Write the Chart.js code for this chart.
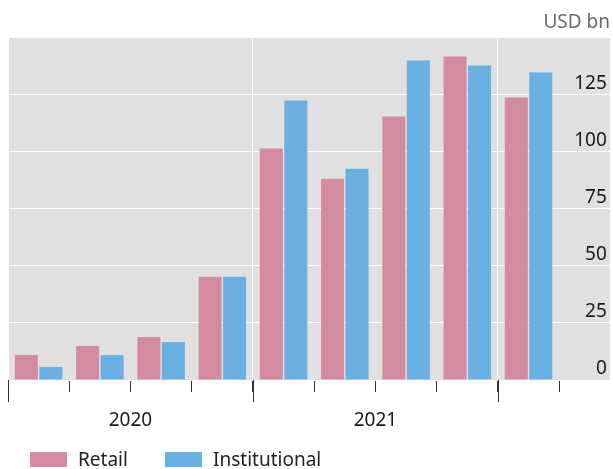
<!DOCTYPE html>
<html>
<head>
<meta charset="utf-8">
<script src="https://cdn.jsdelivr.net/npm/chart.js@4"></script>
<style>
  html, body { margin: 0; padding: 0; background: #fff; }
  .wrap { position: relative; width: 613px; height: 469px; overflow: hidden; }
  .chart-box { position: relative; width: 613px; height: 450px; }
  .legend {
    position: absolute; left: 30px; top: 448px;
    display: flex; font: 19px "Noto Sans", sans-serif; line-height: 22px; color: #222;
  }
  .legend-item { display: flex; align-items: center; width: 135px; }
  .legend-item:last-child { width: auto; }
  .swatch { width: 37px; height: 15px; margin-right: 11px; }
</style>
</head>
<body>
<div class="wrap">
  <div class="chart-box"><canvas id="flows"></canvas></div>
  <div class="legend" id="legend"></div>
</div>
<script>
const quarters = ['Q1 2020', 'Q2 2020', 'Q3 2020', 'Q4 2020', 'Q1 2021', 'Q2 2021', 'Q3 2021', 'Q4 2021', 'Q1 2022'];
const retail = [10.9, 14.9, 18.8, 45.1, 101.2, 88, 115.2, 141.5, 123.5];
const institutional = [5.7, 10.9, 16.6, 45.1, 122.2, 92.4, 139.7, 137.5, 134.5];
const yTicks = [0, 25, 50, 75, 100, 125];
const unitLabel = 'USD bn';

const COLORS = {
  retail: '#d48b9f',
  institutional: '#6ab0e2',
  plot: '#e0e0e0',
  tick: '#333333',
};

// x range in quarter steps; the plot runs a little past the last quarter
const X_MIN = -0.5;
const X_MAX = 9.33;

Chart.defaults.font.family = '"Noto Sans", sans-serif';
Chart.defaults.color = '#1a1a1a';

const yearOf = (q) => q.split(' ')[1];

// quarter boundaries sit half a step either side of each bar group
const boundaries = quarters.map((q, i) => i - 0.5);
const yearStarts = quarters
  .map((q, i) => (i === 0 || yearOf(q) !== yearOf(quarters[i - 1]) ? i - 0.5 : null))
  .filter((v) => v !== null);

const yearLabels = {};
[...new Set(quarters.map(yearOf))].forEach((year) => {
  const idx = quarters.map((q, i) => (yearOf(q) === year ? i : -1)).filter((i) => i >= 0);
  if (idx.length === 4) yearLabels[(idx[0] + idx[idx.length - 1]) / 2] = year;
});

const plotBackground = {
  id: 'plotBackground',
  beforeDraw(chart) {
    const { ctx, chartArea: a } = chart;
    ctx.save();
    ctx.fillStyle = COLORS.plot;
    ctx.fillRect(a.left, a.top, a.right - a.left, a.bottom - a.top);
    ctx.restore();
  },
};

// year boundaries get a longer tick mark below the axis
const yearTicks = {
  id: 'yearTicks',
  afterDraw(chart) {
    const { ctx, chartArea: a } = chart;
    const x = chart.scales.x;
    ctx.save();
    ctx.strokeStyle = COLORS.tick;
    ctx.lineWidth = 1;
    yearStarts.forEach((v) => {
      const px = Math.round(x.getPixelForValue(v)) + 0.5;
      ctx.beginPath();
      ctx.moveTo(px, a.bottom);
      ctx.lineTo(px, a.bottom + 22);
      ctx.stroke();
    });
    ctx.restore();
  },
};

const datasets = [
  { label: 'Retail', values: retail, color: COLORS.retail },
  { label: 'Institutional', values: institutional, color: COLORS.institutional },
].map((d) => ({
  label: d.label,
  data: d.values.map((y, i) => ({ x: i, y })),
  backgroundColor: d.color,
  borderWidth: 0,
  categoryPercentage: 0.8,
  barPercentage: 0.94,
}));

new Chart(document.getElementById('flows'), {
  type: 'bar',
  data: { datasets },
  plugins: [plotBackground, yearTicks],
  options: {
    responsive: true,
    maintainAspectRatio: false,
    animation: false,
    layout: { padding: { left: 8, right: 3, top: 0, bottom: 0 } },
    plugins: {
      legend: { display: false },
      tooltip: { enabled: false },
      title: {
        display: true,
        text: unitLabel,
        align: 'end',
        color: '#6b6b6b',
        font: { size: 19, weight: 'normal' },
        padding: { top: 11, bottom: 3.2 },
      },
    },
    scales: {
      x: {
        type: 'linear',
        offset: false,
        bounds: 'data',
        min: X_MIN,
        max: X_MAX,
        afterBuildTicks: (axis) => {
          axis.ticks = [...boundaries, quarters.length - 0.5].map((value) => ({ value }));
        },
        ticks: {
          autoSkip: false,
          maxRotation: 0,
          // padding widens the plot's left inset, so the label drop comes from line height
          padding: 0,
          color: '#1a1a1a',
          font: { size: 19, lineHeight: '58px' },
          callback: (value) => yearLabels[value] || '',
        },
        grid: {
          offset: false,
          color: (ctx) => (ctx.tick && yearStarts.includes(ctx.tick.value) ? '#ffffff' : 'rgba(0,0,0,0)'),
          tickColor: COLORS.tick,
          tickLength: 12,
          tickWidth: 1,
          lineWidth: 1,
        },
        border: { display: false },
      },
      y: {
        position: 'right',
        min: 0,
        max: 150,
        afterBuildTicks: (axis) => {
          axis.ticks = [...yTicks, 150].map((value) => ({ value }));
        },
        ticks: {
          mirror: true,
          // any padding here is also reserved as axis width and shrinks the plot
          padding: 0,
          labelOffset: -11,
          color: '#1a1a1a',
          font: { size: 19 },
          callback: (value) => (yTicks.includes(value) ? `${value}\u2009` : ''),
        },
        grid: { color: '#ffffff', lineWidth: 1, drawTicks: false },
        border: { display: false },
      },
    },
  },
});

document.getElementById('legend').innerHTML = datasets.map((d) => `
  <div class="legend-item"><span class="swatch" style="background:${d.backgroundColor}"></span>${d.label}</div>
`).join('');
</script>
</body>
</html>
